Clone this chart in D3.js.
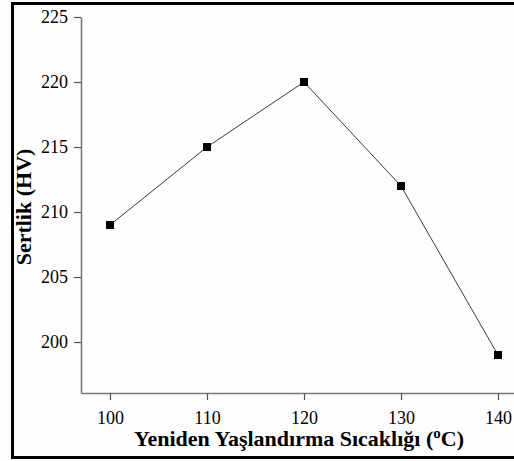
<!DOCTYPE html>
<html><head><meta charset="utf-8">
<script src="https://cdn.jsdelivr.net/npm/d3@7"></script>
<style>body{margin:0;background:#fff}svg{display:block}text{font-family:"Liberation Serif",serif}</style>
</head><body>
<script>
const temperatures = [100, 110, 120, 130, 140];
const hardness = [209, 215, 220, 212, 199];
const xTicks = [100, 110, 120, 130, 140];
const yTicks = [200, 205, 210, 215, 220, 225];

(function () {
const W = 514, H = 461;
const svg = d3.select("body").append("svg").attr("width", W).attr("height", H);
svg.append("rect").attr("width", W).attr("height", H).attr("fill", "#fdfdfd");
// outer frame
svg.append("rect").attr("x", 12.5).attr("y", 3.5).attr("width", W + 10).attr("height", 454)
  .attr("fill", "none").attr("stroke", "#000").attr("stroke-width", 3);

const mLeft = 81, mBottom = 393, mTop = 17, mRight = 514;
const x = d3.scaleLinear().domain([100 - 29 / 9.7, 100 + (mRight - 110) / 9.7]).range([mLeft, mRight]);
const y = d3.scaleLinear().domain([196.08, 225]).range([mBottom, mTop]);

const font = "Liberation Serif, serif";

const gx = svg.append("g").attr("transform", `translate(0,${mBottom})`)
  .call(d3.axisBottom(x).tickValues(xTicks).tickSize(7).tickPadding(11).tickSizeOuter(0));
const gy = svg.append("g").attr("transform", `translate(${mLeft},0)`)
  .call(d3.axisLeft(y).tickValues(yTicks).tickSize(7).tickPadding(6).tickSizeOuter(0));
[gx, gy].forEach(g => {
  g.attr("font-family", font).attr("font-size", 18);
  g.select(".domain").attr("stroke", "#7a7a7a").attr("stroke-width", 1.6);
  g.selectAll(".tick line").attr("stroke", "#555").attr("stroke-width", 1.2);
  g.selectAll(".tick text").attr("fill", "#000");
});

const line = d3.line().x((d, i) => x(temperatures[i])).y(d => y(d));
svg.append("path").datum(hardness).attr("d", line)
  .attr("fill", "none").attr("stroke", "#3a3a3a").attr("stroke-width", 1);

const ms = 8;
svg.selectAll("rect.pt").data(hardness).join("rect").attr("class", "pt")
  .attr("x", (d, i) => x(temperatures[i]) - ms / 2).attr("y", d => y(d) - ms / 2)
  .attr("width", ms).attr("height", ms).attr("fill", "#000");

const xl = svg.append("text").attr("x", 299).attr("y", 446).attr("text-anchor", "middle")
  .attr("font-family", font).attr("font-weight", "bold").attr("font-size", 22).attr("fill", "#000");
xl.append("tspan").text("Yeniden Yaşlandırma Sıcaklığı (");
xl.append("tspan").text("o").attr("font-size", 15).attr("dy", -8);
xl.append("tspan").text("C)").attr("dy", 8);

svg.append("text").attr("transform", "translate(31,207) rotate(-90)").attr("text-anchor", "middle")
  .attr("font-family", font).attr("font-weight", "bold").attr("font-size", 22).attr("fill", "#000")
  .text("Sertlik (HV)");
})();
</script>
</body></html>
